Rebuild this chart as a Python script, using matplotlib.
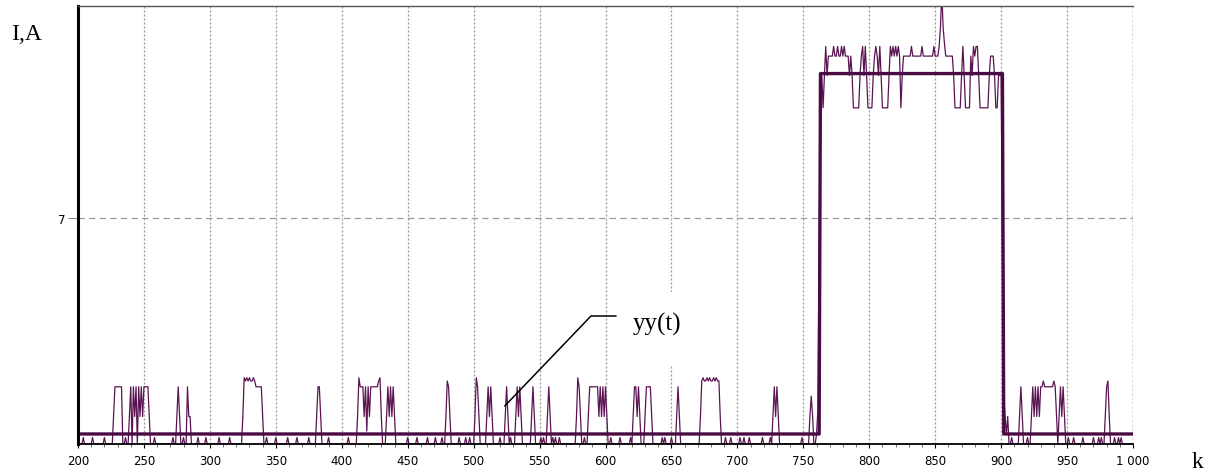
import numpy as np
import matplotlib
matplotlib.use('Agg')
import matplotlib.pyplot as plt
from matplotlib.patches import Rectangle

# ============================================================================
# DATA
# ============================================================================

K_FIRST = 200
K_LAST = 1000

# levels of the measured signal
M = 0.85   # middle step
T = 1.77   # pulse top
W = 1.95   # wavy top
H = 2.05   # small bump on wavy top
PL = 10.4  # plateau, low dips
PM = 11.4  # plateau, middle
PT = 12.0  # plateau, top
PH = 12.3  # plateau, small bumps
BUMP = 0.2

# single-sample bumps on the zero line
bump_k = [204, 211, 220, 236, 258, 272, 280, 291, 297, 307, 315, 343, 350, 359,
          366, 375, 390, 405, 450, 457, 465, 471, 476, 489, 494, 497, 520, 528,
          551, 553, 560, 562, 565, 584, 604, 611, 619, 643, 645, 650, 691, 695,
          702, 705, 709, 719, 725, 749, 908, 920, 951, 955, 962, 970, 974, 976,
          986, 989, 991]

# pulses: first sample index and the consecutive sample values
cluster_start = [227, 239, 275, 283, 325, 381, 412, 434, 479, 501, 510, 524,
                 532, 544, 556, 578, 587, 621, 630, 654, 672, 727, 755,
                 760, 769, 785, 794, 804, 816, 826, 853, 864, 877, 901,
                 914, 923, 931, 944, 979]
cluster_levels = [
    [M, T, T, T, T, T, T],
    [M, T, 0, T, M, T, 0, T, M, T, M, T, T, T, T, M],
    [M, T, M],
    [T, M, M],
    [M, H, W, H, W, H, W, W, H, W, T, T, T, T, T, M],
    [M, T, T, M],
    [M, H, T, T, T, M, T, 0.4, T, M, T, T, T, T, T, T, W, H, M],
    [M, T, M, T, M, T, M],
    [M, W, T, M],
    [M, H, T, M],
    [M, T, M, T, M],
    [M, T, M],
    [M, T, M, T, M],
    [M, T, M],
    [M, T, M],
    [M, H, T, M],
    [M, T, T, T, T, T, T, T, M, T, M, T, M, T, M],
    [M, T, T, M, T, M],
    [M, T, T, T, T, M],
    [M, T, M],
    [M, W, H, W, W, H, W, H, W, W, H, W, H, W, W, M],
    [M, T, M, T, M],
    [M, 1.48, 0.9],
    [0.3, 1.0, 6.0, PL, PM, PL, PM, PH, PM],
    [PT, PT, PT, PT, PH, PT, PT, PH, PT, PT, PH, PT, PH, PT, PT, PT],
    [PM, PT, PM, PL, PL, PL, PL, PL, PM],
    [PT, PH, PM, PH, PM, PL, PL, PL, PL, PM],
    [PT, PH, PT, PM, PH, PM, PL, PL, PL, PL, PL, PM],
    [PH, PT, PH, PT, PH, PT, PH, PT, PL, PM],
    [PT, PT, PT, PT, PT, PT, PH, PT, PT, PT, PT, PT, PT, PT, PH,
     PT, PT, PT, PT, PT, PT, PT, PT, PH, PT, PT, PT],
    [PH, 12.9, 14.0, 12.9, 12.4, PT, PT, PT, PT, PT, PT],
    [PM, PL, PL, PL, PL, PL, PM, PH, PM, PL, PL, PL, PL],
    [PT, PM, PH, PT, PH, PH, PM, PL, PL, PL, PL, PL, PL, PL, PM,
     PT, PT, PT, PM, PL, PL, PM, PM, PM],
    [6.0, 1.5, M, 0.3, M],
    [M, T, M],
    [M, T, M, T, M, T, M, T],
    [T, W, T, T, T, T, T, T, T, W, T, M],
    [M, T, M, T, M],
    [M, T, W, M],
]

# model output (thick line)
model_k = [200, 762, 763, 901, 902, 1000]
model_y = [0.31, 0.31, 11.46, 11.46, 0.31, 0.31]

x_ticks = [200, 250, 300, 350, 400, 450, 500, 550, 600, 650, 700, 750, 800,
           850, 900, 950, 1000]
x_tick_labels = ['200', '250', '300', '350', '400', '450', '500', '550', '600',
                 '650', '700', '750', '800', '850', '900', '950', '1 000']
y_ticks = [7]
y_tick_labels = ['7']

# ============================================================================
# BUILD SIGNAL
# ============================================================================

k = np.arange(K_FIRST, K_LAST + 1)
yy = np.zeros(len(k))
yy[np.array(bump_k) - K_FIRST] = BUMP
for start, levels in zip(cluster_start, cluster_levels):
    i0 = start - K_FIRST
    yy[i0:i0 + len(levels)] = levels

# ============================================================================
# PLOT
# ============================================================================

W_PX, H_PX = 1211, 477
fig = plt.figure(figsize=(W_PX / 100, H_PX / 100), dpi=100)
ax = fig.add_axes([78 / W_PX, 1 - 445 / H_PX, (1133 - 78) / W_PX, (445 - 7) / H_PX])

line_col = '#5a1452'
thick_col = '#4a0a44'

ax.plot(k, yy, color=line_col, lw=0.9, zorder=3)
ax.plot(model_k, model_y, color=thick_col, lw=2.4, zorder=4)

ax.set_xlim(200, 1000)
ax.set_ylim(0, 13.55)

ax.set_xticks(x_ticks)
ax.set_xticklabels(x_tick_labels, fontsize=8.5, family='DejaVu Sans')
ax.set_xticks(np.arange(200, 1001, 10), minor=True)
ax.set_yticks(y_ticks)
ax.set_yticklabels(y_tick_labels, fontsize=8.5, family='DejaVu Sans')
ax.tick_params(axis='x', which='major', length=3, width=0.8, pad=4, colors='black')
ax.tick_params(axis='x', which='minor', length=2, width=0.6, color='#555555')
ax.tick_params(axis='y', which='major', length=7, width=0.8, pad=2, color='#888888')

# grid: dotted verticals, dashed horizontal
for xt in x_ticks[1:-1]:
    ax.axvline(xt, color='#9a9a9a', lw=0.9, dashes=(1.6, 1.6), zorder=1)
ax.axvline(1000, color='#333333', lw=1.0, dashes=(1.6, 1.6), zorder=1)
for yt in y_ticks:
    ax.axhline(yt, color='#9a9a9a', lw=0.9, dashes=(5, 3.5), zorder=1)

for side in ['left', 'bottom', 'top', 'right']:
    ax.spines[side].set_zorder(5)
ax.spines['left'].set_linewidth(2.2)
ax.spines['left'].set_color('black')
ax.spines['bottom'].set_linewidth(1.3)
ax.spines['bottom'].set_color('black')
ax.spines['top'].set_linewidth(1.0)
ax.spines['top'].set_color('#555555')
ax.spines['right'].set_visible(False)

# label for the measured signal
ax.add_patch(Rectangle((618, 2.41), 62, 2.3, facecolor='white', edgecolor='none', zorder=2))
ax.plot([523.7, 589.0, 607.8], [1.18, 3.96, 3.96], color='black', lw=1.1, zorder=6)
ax.text(621.0, 3.72, 'yy(t)', fontsize=18, family='Liberation Serif',
        ha='left', va='center', zorder=6)

fig.text(27 / W_PX, 1 - 35 / H_PX, 'I,A', fontsize=17, family='Liberation Serif',
         ha='center', va='center')
fig.text(1197 / W_PX, 1 - 463 / H_PX, 'k', fontsize=17, family='Liberation Serif',
         ha='center', va='center')

plt.savefig('out.png', dpi=100)
